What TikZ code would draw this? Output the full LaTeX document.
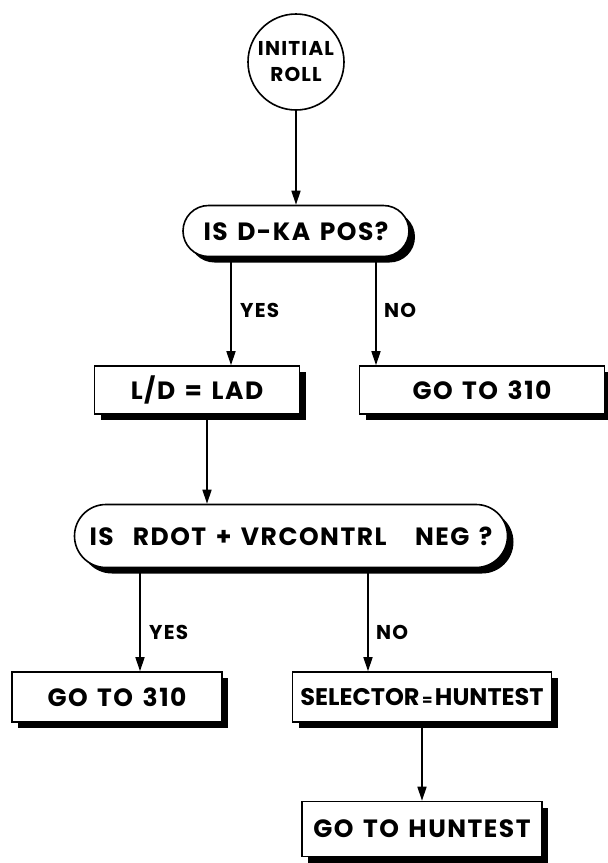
\documentclass[tikz,border=0pt]{standalone}
\usepackage{fontspec}
\setmainfont{Poppins}[LetterSpace=6, WordSpace=1.4]
\usepackage{tikz}
\usetikzlibrary{arrows.meta, shapes.misc, shadows}
\tikzset{
  %% ── Blocs ────────────────────────────────────────────────────────────
  %% Trait epais et ombre noire pleine en bas a droite, comme sur l'original.
  bloc/.style     = {draw=black, line width=1.6pt, fill=white, align=center,
                     inner sep=0pt, font=\fontsize{25}{28}\selectfont\bfseries,
                     drop shadow={shadow xshift=6pt, shadow yshift=-6pt,
                                  fill=black, opacity=1}},
  blocTest/.style = {bloc, rounded rectangle},
  debut/.style    = {draw=black, line width=1.6pt, circle, align=center,
                     inner sep=0pt, minimum size=96pt,
                     font=\fontsize{20}{26}\selectfont\bfseries},
  %%
  %% ── Fleches ──────────────────────────────────────────────────────────
  fleche/.style   = {-{Triangle[length=14pt, width=9pt]}, line width=1.6pt},
  %%
  %% ── Texte ────────────────────────────────────────────────────────────
  etiquette/.style = {font=\fontsize{20}{22}\selectfont\bfseries, anchor=west,
                      inner sep=0pt},
}

\begin{document}
\begin{tikzpicture}[x=1pt, y=-1pt]
\useasboundingbox (0,0) rectangle (608,863);

%% Depart et premier test.
\node[debut] (debut) at (296,62) {INITIAL\\ROLL};
\node[blocTest, minimum width=226pt, minimum height=51pt] (test1) at (296,231) {IS D-KA POS?};
\draw[fleche] (debut) -- (test1);

%% Les deux sorties du premier test.
\node[bloc, minimum width=205pt, minimum height=48pt] (lad) at (197,390) {L/D = LAD};
\node[bloc, minimum width=245pt, minimum height=48pt] (aller1) at (482,390) {GO TO 310};
\coordinate (oui1) at (231,0);
\coordinate (non1) at (376,0);
\draw[fleche] (test1.south -| oui1) -- (lad.north -| oui1);
\draw[fleche] (test1.south -| non1) -- (aller1.north -| non1);
\node[etiquette] (oui1txt) at (240,310) {YES};
\node[etiquette] (non1txt) at (384,310) {NO};

%% Second test.
\node[blocTest, minimum width=433pt, minimum height=63pt] (test2) at (291,536)
     {IS~~RDOT + VRCONTRL~~~NEG ?};
\coordinate (axe2) at (207,0);
\draw[fleche] (lad.south -| axe2) -- (test2.north -| axe2);

%% Les deux sorties du second test.
\node[bloc, minimum width=210pt, minimum height=50pt] (aller2) at (117,697) {GO TO 310};
\node[bloc, minimum width=259pt, minimum height=50pt,
      font=\fontsize{24}{28}\selectfont\bfseries\addfontfeature{LetterSpace=0}]
     (selecteur) at (422,697) {SELECTOR{\fontsize{15}{15}\selectfont\,=\,}HUNTEST};
\coordinate (oui2) at (140,0);
\coordinate (non2) at (368,0);
\draw[fleche] (test2.south -| oui2) -- (aller2.north -| oui2);
\draw[fleche] (test2.south -| non2) -- (selecteur.north -| non2);
\node[etiquette] (oui2txt) at (149,632) {YES};
\node[etiquette] (non2txt) at (376,632) {NO};

%% Fin.
\node[bloc, minimum width=240pt, minimum height=55pt] (hunt) at (422,829) {GO TO HUNTEST};
\draw[fleche] (selecteur) -- (hunt);

\end{tikzpicture}
\end{document}
